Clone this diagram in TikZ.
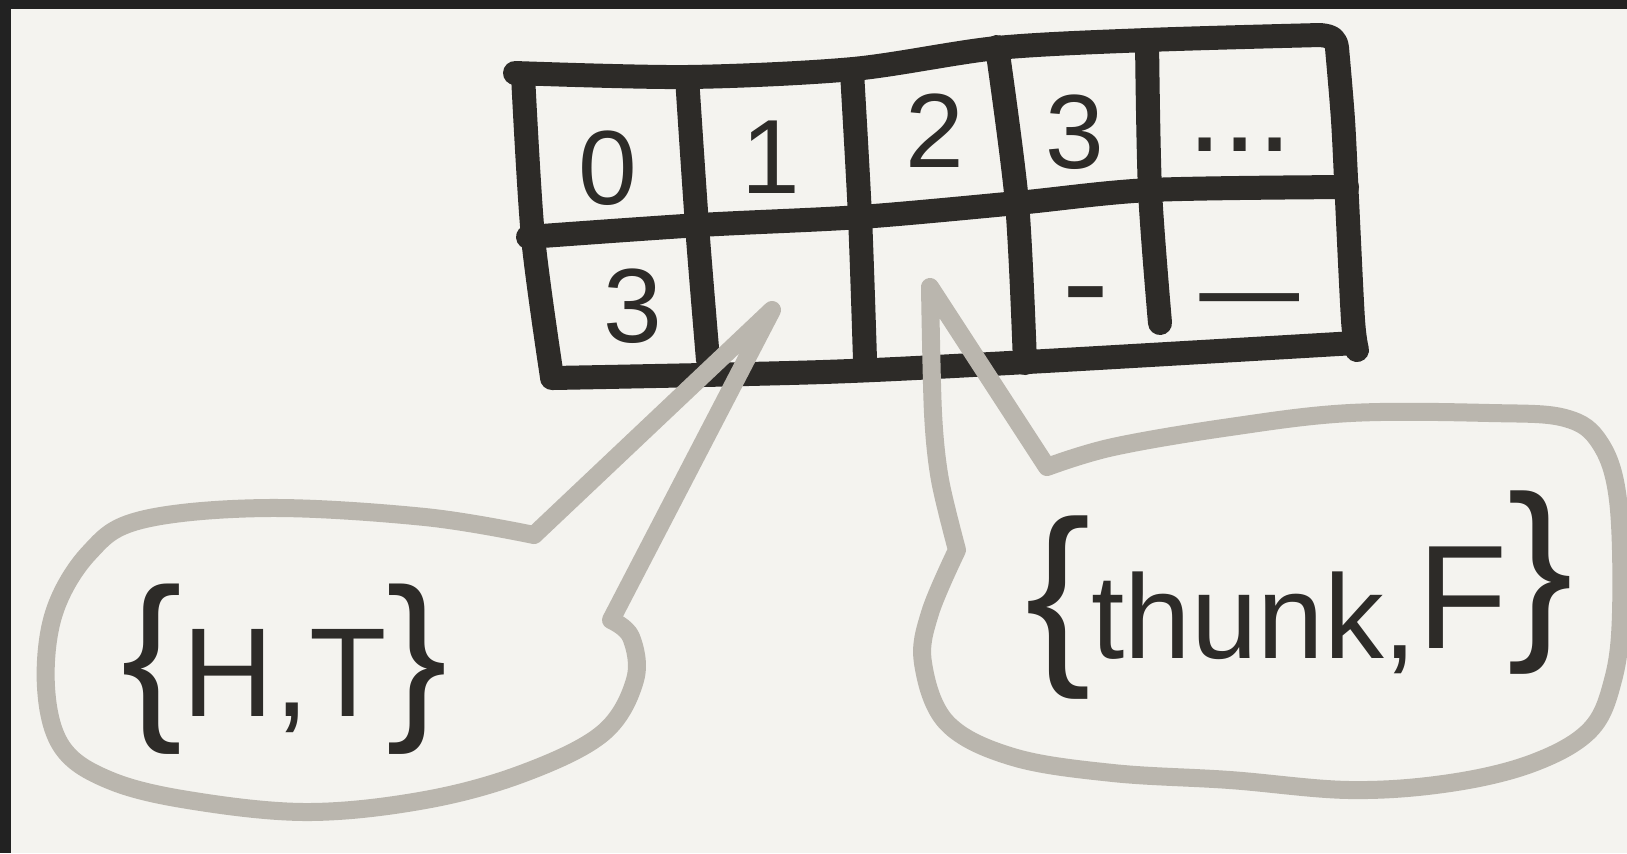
\documentclass[tikz,border=0pt]{standalone}
\usepackage{fontspec}
\setmainfont{Liberation Sans}
\definecolor{bg}{RGB}{244,243,239}
\definecolor{framedark}{RGB}{34,34,34}
\definecolor{ink}{RGB}{45,43,40}
\definecolor{bubblegray}{RGB}{186,182,174}
\newcommand\fsz[1]{\fontsize{#1}{#1}\selectfont}
\begin{document}
\begin{tikzpicture}[x=0.01cm,y=-0.01cm,
  inkline/.style={draw=ink,line width=0.24cm,line cap=round,line join=round},
  bubble/.style={draw=bubblegray,line width=0.18cm,line cap=round,line join=round},
  celltext/.style={text=ink,inner sep=0pt,anchor=base,font=\fsz{30}},
  bubbletext/.style={text=ink,inner sep=0pt,anchor=base west}]
\useasboundingbox (0,0) rectangle (1627,853);
\fill[bg] (0,0) rectangle (1627,853);
\fill[framedark] (0,0) rectangle (1627,9);
\fill[framedark] (0,0) rectangle (11,853);

% table
\draw[inkline] plot[smooth,tension=0.5] coordinates {(515,73) (687,77) (853,69) (997,48) (1147,40) (1320,35)}
  .. controls (1333,36) and (1336,40) .. (1337,48)
  plot[smooth,tension=0.5] coordinates {(1337,48) (1343,120) (1347,200) (1353,320) (1357,350)};
\draw[inkline] plot[smooth,tension=0.5] coordinates {(523,75) (533,237) (552,377)};
\draw[inkline] plot[smooth,tension=0.5] coordinates {(528,237) (700,225) (860,217) (1017,203) (1150,190) (1347,187)};
\draw[inkline] plot[smooth,tension=0.5] coordinates {(552,378) (823,372) (1027,362) (1355,343)};
\draw[inkline] plot[smooth,tension=0.5] coordinates {(687,77) (697,225) (708,360)};
\draw[inkline] plot[smooth,tension=0.5] coordinates {(852,72) (860,217) (865,360)};
\draw[inkline] plot[smooth,tension=0.5] coordinates {(997,47) (1017,203) (1025,363)};
\draw[inkline] plot[smooth,tension=0.5] coordinates {(1147,40) (1150,190) (1160,323)};

\node[celltext] (c0) at (608,204) {0};
\node[celltext] (c1) at (771,193) {1};
\node[celltext] (c2) at (935,167) {2};
\node[celltext] (c3) at (1075,168) {3};
\node[celltext,font=\fsz{36}] (c4) at (1240,151) {...};
\node[celltext] (v0) at (633,342) {3};
\node[celltext,font=\fsz{40}] (v3) at (1086,329) {-};
\node[celltext,font=\fsz{36}] (v4) at (1250,276) {\scalebox{1.35}[1]{\_}};

% bubbles
\coordinate (tipL) at (772,310);
\coordinate (tipR) at (930,287);
\draw[bubble] (534,535) -- (tipL) -- (611,620)
  plot[smooth,tension=0.6] coordinates {(611,620) (631,637) (635,680) (603,733) (524,773) (425,800) (307,812) (188,800) (109,780) (62,747) (46,687) (54,613) (89,553) (141,520) (267,508) (425,517) (534,535)};
\draw[bubble] (1047,467) -- (tipR)
  plot[smooth] coordinates {(tipR) (933,413) (940,480) (957,550)}
  plot[smooth,tension=0.6] coordinates {(957,550) (930,613) (923,663) (947,723) (1013,757) (1113,773) (1230,780) (1350,790) (1450,783) (1533,763) (1590,730) (1613,680) (1621,613) (1618,500) (1600,443) (1565,418) (1490,413) (1350,413) (1230,427) (1113,447) (1047,467)};

\node[bubbletext] (ht) at (121,716) {\fsz{52}\{\fsz{36}H,T\fsz{52}\}};
\node[bubbletext] (tf) at (1025,658) {\fsz{56}\{\fsz{34}thunk,\fsz{42}\raisebox{1mm}{F}\fsz{56}\raisebox{2.5mm}{\}}};
\end{tikzpicture}
\end{document}
